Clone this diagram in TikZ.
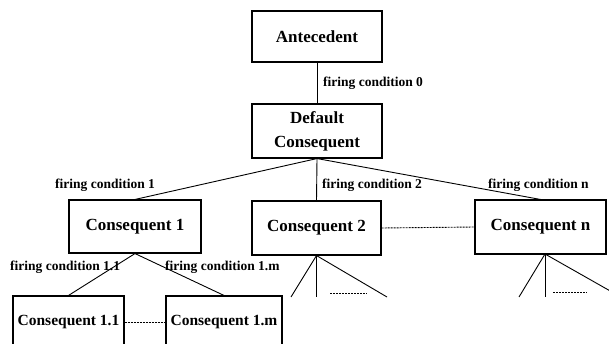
\documentclass[tikz,border=0pt]{standalone}
\usepackage{fontspec}
\setmainfont{Liberation Serif}
\begin{document}
\begin{tikzpicture}[x=1pt,y=-1pt,
  box/.style={draw,line width=1.1pt,inner sep=0pt,align=center,font=\fontsize{17}{24}\selectfont\bfseries},
  subbox/.style={draw,line width=1.1pt,inner sep=0pt,align=center,font=\fontsize{15.5}{19}\selectfont\bfseries},
  lbl/.style={anchor=west,inner sep=0pt,font=\fontsize{13.5}{16}\selectfont\bfseries},
  conn/.style={line width=0.9pt},
  dots/.style={line width=0.9pt,dash pattern=on 2pt off 1pt}]
\useasboundingbox (0,0) rectangle (609,344);
\clip (0,0) rectangle (609,344);
\node[box,minimum width=130,minimum height=51] (ant) at (317,36.5) {Antecedent};
\node[box,minimum width=130,minimum height=54] (def) at (317,131) {Default\\Consequent};
\node[box,minimum width=132,minimum height=53] (c1) at (135,226.5) {Consequent 1};
\node[box,minimum width=129,minimum height=54] (c2) at (316.5,228) {Consequent 2};
\node[box,minimum width=131,minimum height=54] (cn) at (540.5,227) {Consequent n};
\node[subbox,minimum width=111,minimum height=52] (c11) at (68.5,322) {Consequent 1.1};
\node[subbox,minimum width=116,minimum height=52] (c1m) at (224,322) {Consequent 1.m};

\node[lbl] (l0) at (323,83) {firing condition 0};
\node[lbl] (l1) at (55,185) {firing condition 1};
\node[lbl] (l2) at (322,185) {firing condition 2};
\node[lbl] (ln) at (488,185) {firing condition n};
\node[lbl] (l11) at (10,267) {firing condition 1.1};
\node[lbl] (l1m) at (165,267) {firing condition 1.m};

\draw[conn] (ant.south) -- (def.north);
\draw[conn] (def.south) -- (c1.north);
\draw[conn] (def.south) -- (c2.north);
\draw[conn] (def.south) -- (cn.north);
\draw[conn] (c1.south) -- (c11.north);
\draw[conn] (c1.south) -- (c1m.north);
\draw[dots] (c2.east) -- (cn.west);
\draw[dots] (c11.east) -- (c1m.west);

\coordinate (a2) at (291,297);
\coordinate (b2) at (316.5,297);
\coordinate (e2) at (387,297);
\coordinate (d2s) at (330,293);
\coordinate (d2e) at (367,293);
\draw[conn] (c2.south) -- (a2);
\draw[conn] (c2.south) -- (b2);
\draw[conn] (c2.south) -- (e2);
\draw[dots] (d2s) -- (d2e);

\coordinate (an) at (519,297);
\coordinate (bn) at (545,297);
\coordinate (en) at (612,292);
\coordinate (dns) at (553,292);
\coordinate (dne) at (587,292);
\coordinate (cnb) at (545,254);
\draw[conn] (cnb) -- (an);
\draw[conn] (cnb) -- (bn);
\draw[conn] (cnb) -- (en);
\draw[dots] (dns) -- (dne);
\end{tikzpicture}
\end{document}
